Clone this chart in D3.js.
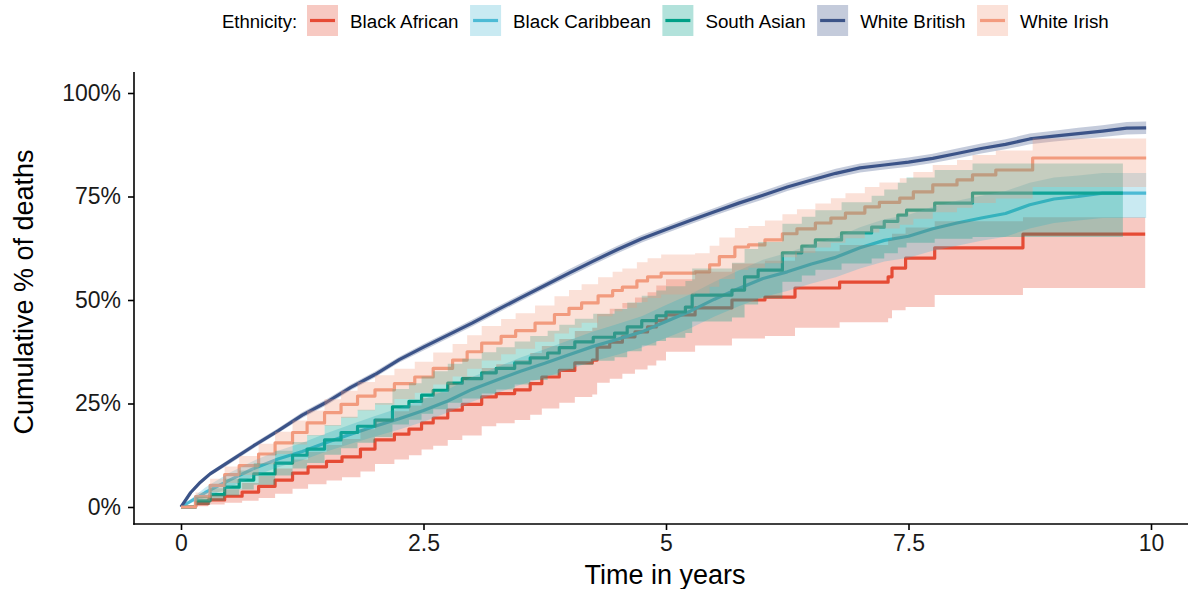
<!DOCTYPE html>
<meta charset="utf-8">
<head>
<style>
  body { margin: 0; background: #fff; }
  svg { font-family: "Liberation Sans", Arial, sans-serif; }
  .tick text { fill: #1a1a1a; }
</style>
<title>Cumulative deaths by ethnicity</title>
</head>
<script src="https://cdn.jsdelivr.net/npm/d3@7"></script>

<svg width="1188" height="589" id="chart"></svg>

<script>
// group names and colours (npg palette)
const ethnicities = ["Black African", "Black Caribbean", "South Asian", "White British", "White Irish"];
const colours = ["#E64B35", "#4DBBD5", "#00A087", "#3C5488", "#F39B7F"];
// big groups have so many tiny steps they read as a smooth line
const curveKinds = ["step", "linear", "step", "linear", "step"];

const xTicks = [0, 2.5, 5, 7.5, 10];
const xTickLabels = ["0", "2.5", "5", "7.5", "10"];
const yTicks = [0, 25, 50, 75, 100];
const yTickLabels = ["0%", "25%", "50%", "75%", "100%"];

// Black African
const tBA = [0,0.15,0.28,0.45,0.63,0.8,0.97,1.15,1.31,1.5,1.66,1.85,2,2.2,2.35,2.48,2.6,2.75,2.9,3.1,3.25,3.44,3.6,3.72,3.9,4.06,4.24,4.29,4.42,4.55,4.68,4.81,4.9,5,5.3,5.68,6.02,6.33,6.79,7.29,7.33,7.47,7.77,8.68,9.94];
const pBA = [0,0.8,1.7,2.6,3.6,5,6.5,8.2,9.7,11,12.1,14,16.2,17.6,18.8,20.3,21.5,23.4,24.8,26.6,27.4,28.3,29.8,31.4,33,34.8,35.5,38.6,39.8,41.1,42.3,43.5,45,46.4,48.1,50,50.7,52.9,54.3,55.6,57.7,60.1,62.6,65.9,65.9];
const loBA = [0,0.2,0.6,1,1.5,2.2,3.2,4.4,5.5,6.4,7.2,8.6,10.4,11.5,12.5,13.9,14.8,16.2,17.3,19.5,20.2,21,22.3,23.8,25.2,26.6,27.2,30,31,32.2,33.2,34.2,35.4,37.5,39,40.7,41.3,43.3,44.6,45.6,47.5,48.3,51.2,52.9,52.9];
const hiBA = [0,1.5,2.9,4.3,5.8,7.5,9.3,11.5,13.3,15,16.4,18.8,21.4,23.1,24.5,26.3,27.7,29.9,31.5,33.6,34.5,35.5,37.2,38.9,40.6,42.5,43.3,46.6,47.9,49.3,50.6,51.9,53.5,55,56.8,58.8,59.5,61.8,63.3,64.6,66,67.5,69,70,70];

// Black Caribbean
const tBC = [0,0.25,0.5,0.75,1,1.25,1.5,1.75,2,2.25,2.5,2.75,3,3.25,3.5,3.75,4,4.25,4.5,4.75,5,5.25,5.5,5.75,6,6.25,6.5,6.75,7,7.25,7.5,7.75,8,8.25,8.5,8.75,9,9.25,9.5,9.95];
const pBC = [0,3.5,6.5,9.3,11.6,13.4,15.6,17.6,19.5,21.3,23.3,25.6,28.4,30.6,32.8,34.7,36.8,38.8,40.5,42.3,44.8,47.3,50.2,52.8,55.2,56.8,58.7,60.3,62.6,64.4,65.4,67.2,68.6,69.8,70.9,73,74.4,75,75.8,75.8];
const loBC = [0,2.3,4.7,7.4,9.6,11.3,13.4,15.3,17,18.7,20.6,22.8,25.4,27.5,29.5,31.3,33.3,35.2,36.8,38.5,40.8,43.2,46,48.5,50.7,52.2,54,55.5,57.6,59.3,60.2,61.9,63.1,64.3,65.3,67.3,68.6,69.2,69.8,69.8];
const hiBC = [0,4.7,8.3,11.2,13.6,15.5,17.8,19.9,22,23.9,26,28.4,31.4,33.7,36.1,38.1,40.3,42.4,44.2,46.1,48.8,51.4,54.4,57.1,59.7,61.4,63.4,65.1,67.6,69.5,70.6,72.5,74,75.2,76.3,78.3,79.6,80.1,80.7,80.7];

// South Asian
const tSA = [0,0.15,0.3,0.45,0.6,0.75,0.97,1.15,1.3,1.48,1.65,1.82,2,2.18,2.35,2.48,2.6,2.75,2.9,3.1,3.25,3.44,3.6,3.78,3.9,4.06,4.25,4.47,4.6,4.75,4.9,5,5.2,5.27,5.68,5.81,5.95,6.2,6.4,6.54,6.81,7.12,7.25,7.39,7.48,7.77,8.16,9.71];
const pSA = [0,1.5,3,4.8,6.5,8,10.6,12.5,14,16.2,18,19.5,21,24.2,25.5,27,28.2,29.9,31,32.4,33.5,34.8,36,37.2,38.5,39.9,41,42,43.5,45,46.2,47.1,48.3,51.2,52.4,55.6,57.2,61.4,63,64.5,66.2,67.6,69,70.5,71.7,73.4,75.8,75.8];
const loSA = [0,0.5,1.5,2.8,4.2,5.4,7.6,9.3,10.6,12.6,14.2,15.5,16.9,19.9,21.1,22.5,23.6,25.2,26.2,27.4,28.4,29.6,30.7,31.8,33,34.3,35.3,36.2,37.6,39,40.1,40.9,42,44.8,45.8,48.9,50.4,54.4,55.9,57.3,58.8,60,61.3,62.7,63.8,64.8,65.2,65.2];
const hiSA = [0,2.5,4.5,6.8,8.8,10.6,13.6,15.7,17.4,19.8,21.8,23.5,25.1,28.5,29.9,31.5,32.8,34.6,35.8,37.4,38.6,40,41.3,42.6,44,45.5,46.7,47.8,49.4,51,52.3,53.3,54.6,57.6,59,62.3,64,68.4,70.1,71.7,73.6,75.2,76.7,78.3,79.6,81.4,83,83];

// White British
const tWB = [0,0.1,0.2,0.3,0.5,0.75,1,1.25,1.5,1.75,2,2.25,2.5,2.75,3,3.25,3.5,3.75,4,4.25,4.5,4.75,5,5.25,5.5,5.75,6,6.25,6.5,6.75,7,7.25,7.5,7.75,8,8.25,8.5,8.75,9,9.25,9.5,9.75,9.95];
const pWB = [0,3.5,6,8,11,14.8,18.4,22.2,25.3,28.9,32,35.6,38.6,41.5,44.4,47.5,50.5,53.5,56.5,59.4,62.2,64.8,67,69.2,71.3,73.4,75.3,77.3,79,80.6,81.9,82.6,83.3,84.2,85.4,86.6,87.6,88.9,89.6,90.2,90.8,91.5,91.6];
const loWB = [0,3.1,5.5,7.5,10.4,14.2,17.8,21.5,24.6,28.2,31.3,34.9,37.8,40.7,43.6,46.7,49.7,52.7,55.6,58.5,61.3,63.9,66.1,68.3,70.4,72.4,74.3,76.3,78,79.5,80.8,81.5,82.2,83.1,84.2,85.4,86.4,87.6,88.3,88.8,89.4,90,90.1];
const hiWB = [0,3.9,6.5,8.5,11.6,15.4,19,22.9,26,29.6,32.7,36.3,39.4,42.3,45.2,48.3,51.3,54.3,57.4,60.3,63.1,65.7,67.9,70.1,72.2,74.4,76.3,78.3,80,81.7,83,83.7,84.4,85.3,86.6,87.8,88.8,90.2,90.9,91.6,92.2,93,93.1];

// White Irish
const tWI = [0,0.15,0.3,0.45,0.6,0.8,0.97,1.15,1.3,1.48,1.65,1.82,2,2.2,2.41,2.6,2.8,2.95,3.1,3.3,3.45,3.65,3.85,4,4.13,4.3,4.45,4.55,4.7,4.81,4.95,5.3,5.45,5.55,5.71,5.85,6.02,6.2,6.35,6.54,6.7,6.85,7.05,7.2,7.41,7.55,7.75,8,8.16,8.4,8.78,9.95];
const pWI = [0,2.5,5.2,7.8,10,12.8,15.5,18,20.3,22.8,24.8,26.8,28.3,29.8,31.4,33.5,35.5,37.5,39.6,41.2,42.6,44.4,46.5,48,49.3,51,52.3,53.1,54.6,55.6,56.5,56.8,58.5,60.5,62.8,63.3,64.5,66,67.2,68.6,69.8,71,72.5,73.6,74.6,76.1,77.8,79,80.2,81.4,84.3,84.3];
const loWI = [0,1.5,3.6,5.8,7.7,10.3,12.8,15.1,17.3,19.6,21.5,23.3,24.7,26.1,27.6,29.6,31.5,33.4,35.4,36.9,38.2,39.9,41.9,43.3,44.5,46.1,47.3,48.1,49.5,50.5,51.3,51.6,53.2,55.1,57.3,57.8,58.9,60.3,61.4,62.7,63.8,64.9,66.3,67.3,68.2,69.6,71.2,72.3,73.4,74.5,77.3,77.3];
const hiWI = [0,3.5,6.8,9.8,12.3,15.3,18.2,20.9,23.3,26,28.1,30.2,31.8,33.4,35.1,37.3,39.4,41.5,43.7,45.4,46.8,48.7,50.9,52.4,53.8,55.5,56.8,57.6,59.1,60.1,61,61.3,63.1,65.1,67.4,67.9,69.2,70.7,71.9,73.3,74.6,75.8,77.3,78.4,79.4,80.9,82.6,83.8,85,86.1,89,89];

const times = [tBA, tBC, tSA, tWB, tWI];
const values = [pBA, pBC, pSA, pWB, pWI];
const lowers = [loBA, loBC, loSA, loWB, loWI];
const uppers = [hiBA, hiBC, hiSA, hiWB, hiWI];

const series = ethnicities.map((name, i) => ({
  name: name,
  colour: colours[i],
  curve: curveKinds[i] === 'step' ? d3.curveStepAfter : d3.curveLinear,
  points: times[i].map((t, j) => ({ t: t, p: values[i][j], lo: lowers[i][j], hi: uppers[i][j] }))
}));

const svg = d3.select('#chart');

const x = d3.scaleLinear().domain([0, 10]).range([181, 1151]);
const y = d3.scaleLinear().domain([0, 100]).range([507, 93]);

const panelLeft = 134, panelBottom = 524, panelTop = 72, panelRight = 1188;

// lines first, ribbons on top (as in the original plot)
const lineFor = s => d3.line()
  .x(d => x(d.t))
  .y(d => y(d.p))
  .curve(s.curve)(s.points);

const bandFor = s => d3.area()
  .x(d => x(d.t))
  .y0(d => y(d.lo))
  .y1(d => y(d.hi))
  .curve(s.curve)(s.points);

svg.append('g')
  .selectAll('path')
  .data(series)
  .enter()
    .append('path')
      .attr('d', lineFor)
      .attr('fill', 'none')
      .attr('stroke', d => d.colour)
      .attr('stroke-width', 3.2)
      .attr('stroke-linejoin', 'round');

svg.append('g')
  .selectAll('path')
  .data(series)
  .enter()
    .append('path')
      .attr('d', bandFor)
      .attr('fill', d => d.colour)
      .attr('fill-opacity', 0.3)
      .attr('stroke', 'none');

// axes
const xAxis = d3.axisBottom(x)
  .tickValues(xTicks)
  .tickFormat((d, i) => xTickLabels[i])
  .tickSize(6)
  .tickPadding(5);

const yAxis = d3.axisLeft(y)
  .tickValues(yTicks)
  .tickFormat((d, i) => yTickLabels[i])
  .tickSize(6)
  .tickPadding(7);

const gx = svg.append('g')
  .attr('transform', `translate(0,${panelBottom})`)
  .call(xAxis);
const gy = svg.append('g')
  .attr('transform', `translate(${panelLeft},0)`)
  .call(yAxis);

[gx, gy].forEach(g => {
  g.select('.domain').remove();
  g.selectAll('.tick line').attr('stroke', '#000').attr('stroke-width', 1.6);
  g.selectAll('.tick text').attr('font-size', 23).attr('font-family', '"Liberation Sans", Arial, sans-serif');
});

svg.append('line')
  .attr('x1', panelLeft).attr('x2', panelLeft)
  .attr('y1', panelTop).attr('y2', panelBottom + 0.8)
  .attr('stroke', '#000').attr('stroke-width', 1.6);
svg.append('line')
  .attr('x1', panelLeft - 0.8).attr('x2', panelRight)
  .attr('y1', panelBottom).attr('y2', panelBottom)
  .attr('stroke', '#000').attr('stroke-width', 1.6);

// axis titles (the x title sits at the very bottom edge, as in the original)
svg.append('text')
  .attr('x', 665)
  .attr('y', 584)
  .attr('text-anchor', 'middle')
  .attr('font-size', 27)
  .attr('fill', '#000')
  .text('Time in years');

svg.append('text')
  .attr('transform', 'translate(33,292) rotate(-90)')
  .attr('text-anchor', 'middle')
  .attr('font-size', 27)
  .attr('fill', '#000')
  .text('Cumulative % of deaths');

// legend along the top
const legend = svg.append('g').attr('class', 'legend');
legend.append('text')
  .attr('x', 222)
  .attr('y', 28)
  .attr('font-size', 18.5)
  .attr('fill', '#000')
  .text('Ethnicity:');

let cursor = 307;
series.forEach(s => {
  const item = legend.append('g').attr('transform', `translate(${cursor},5)`);
  item.append('rect')
    .attr('width', 31).attr('height', 31)
    .attr('fill', s.colour).attr('fill-opacity', 0.3);
  item.append('line')
    .attr('x1', 3).attr('x2', 28)
    .attr('y1', 15.5).attr('y2', 15.5)
    .attr('stroke', s.colour).attr('stroke-width', 3.2);
  const label = item.append('text')
    .attr('x', 43)
    .attr('y', 23)
    .attr('font-size', 18.8)
    .attr('fill', '#000')
    .text(s.name);
  cursor += 43 + label.node().getComputedTextLength() + 11.5;
});
</script>
